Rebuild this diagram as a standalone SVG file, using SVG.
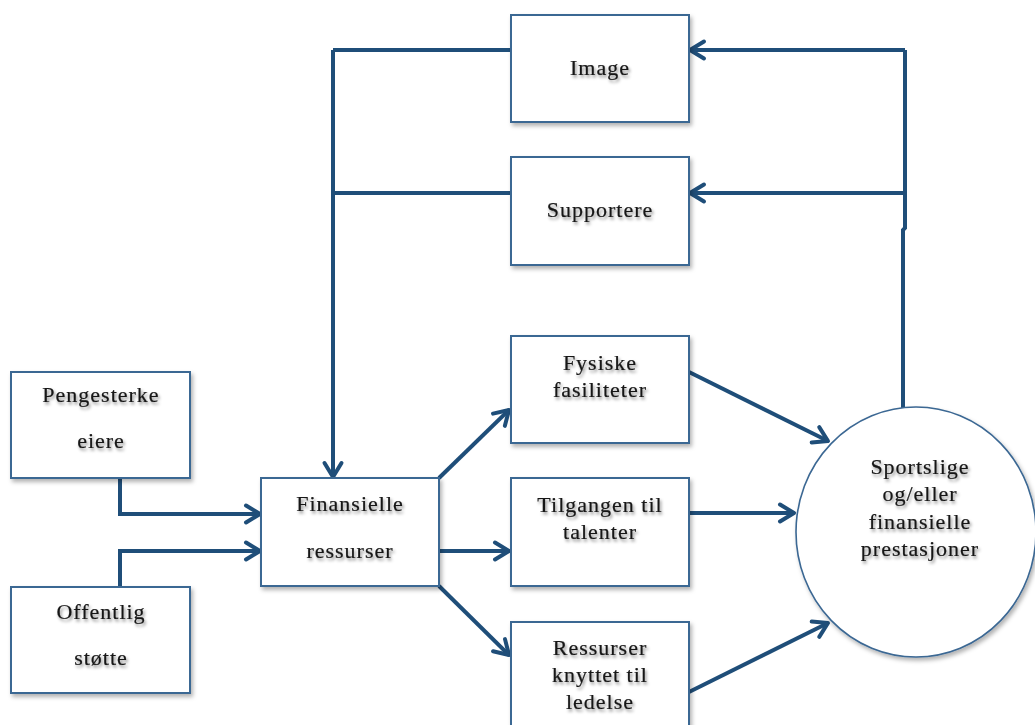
<svg xmlns="http://www.w3.org/2000/svg" width="1035" height="725" viewBox="0 0 1035 725">
  <defs>
    <filter id="boxShadow" x="-10%" y="-10%" width="130%" height="130%">
      <feDropShadow dx="2" dy="3" stdDeviation="2" flood-color="#000" flood-opacity="0.3"/>
    </filter>
    <filter id="textShadow" x="-10%" y="-30%" width="130%" height="170%">
      <feDropShadow dx="1.5" dy="2.5" stdDeviation="1.5" flood-color="#000" flood-opacity="0.45"/>
    </filter>
    <marker id="arrow" markerUnits="userSpaceOnUse" markerWidth="24" markerHeight="24" refX="15" refY="10" orient="auto" overflow="visible">
      <path d="M1,1.5 L15,10 L1,18.5" fill="none" stroke="#1f4e79" stroke-width="4" stroke-linecap="round" stroke-linejoin="round"/>
    </marker>
  </defs>
  <style>
    .box { fill: #ffffff; stroke: #3b6793; stroke-width: 2; filter: url(#boxShadow); }
    .ell { fill: #ffffff; stroke: #3b6793; stroke-width: 1.6; filter: url(#boxShadow); }
    .lbl { font-family: "Liberation Serif", "Times New Roman", serif; font-size: 22px; letter-spacing: 1px; fill: #161616; stroke: #161616; stroke-width: 0.2; text-anchor: middle; filter: url(#textShadow); }
    .con { fill: none; stroke: #1f4e79; stroke-width: 4; stroke-linejoin: miter; }
    .arr { marker-end: url(#arrow); }
  </style>

  <rect width="1035" height="725" fill="#ffffff"/>

  <!-- connectors -->
  <g id="connectors">
    <!-- feedback from performance back to image and supporters -->
    <path class="con" d="M903,410 L903,230 L905,228 L905,50"/>
    <path class="con arr" d="M905,50 L690,50"/>
    <path class="con arr" d="M905,193 L690,193"/>
    <!-- image and supporters feed the financial resources -->
    <path class="con" d="M511,50 L333,50"/>
    <path class="con" d="M511,193 L333,193"/>
    <path class="con arr" d="M333,50 L333,477"/>
    <!-- owners and public support -->
    <path class="con arr" d="M120,478 L120,514 L260,514"/>
    <path class="con arr" d="M120,587 L120,551 L260,551"/>
    <!-- financial resources split into three -->
    <path class="con arr" d="M439,478 L509,410"/>
    <path class="con arr" d="M439,551 L509,551"/>
    <path class="con arr" d="M439,586 L509,655"/>
    <!-- resources to performance -->
    <path class="con arr" d="M689,372 L828,441"/>
    <path class="con arr" d="M689,513 L794,513"/>
    <path class="con arr" d="M689,692 L828,623"/>
  </g>

  <g id="node-image">
    <rect class="box" x="511" y="15" width="178" height="107"/>
    <text class="lbl" x="600" y="75">Image</text>
  </g>

  <g id="node-supportere">
    <rect class="box" x="511" y="157" width="178" height="108"/>
    <text class="lbl" x="600" y="217">Supportere</text>
  </g>

  <g id="node-pengesterke">
    <rect class="box" x="11" y="372" width="179" height="106"/>
    <text class="lbl" x="101" y="402">Pengesterke</text>
    <text class="lbl" x="101" y="448">eiere</text>
  </g>

  <g id="node-offentlig">
    <rect class="box" x="11" y="587" width="179" height="106"/>
    <text class="lbl" x="101" y="619">Offentlig</text>
    <text class="lbl" x="101" y="665">støtte</text>
  </g>

  <g id="node-finansielle">
    <rect class="box" x="261" y="478" width="178" height="108"/>
    <text class="lbl" x="350" y="511">Finansielle</text>
    <text class="lbl" x="350" y="558">ressurser</text>
  </g>

  <g id="node-fysiske">
    <rect class="box" x="511" y="336" width="178" height="107"/>
    <text class="lbl" x="600" y="370">Fysiske</text>
    <text class="lbl" x="600" y="397">fasiliteter</text>
  </g>

  <g id="node-tilgangen">
    <rect class="box" x="511" y="478" width="178" height="108"/>
    <text class="lbl" x="600" y="512">Tilgangen til</text>
    <text class="lbl" x="600" y="539">talenter</text>
  </g>

  <g id="node-ressurser">
    <rect class="box" x="511" y="622" width="178" height="110"/>
    <text class="lbl" x="600" y="655">Ressurser</text>
    <text class="lbl" x="600" y="682">knyttet til</text>
    <text class="lbl" x="600" y="709">ledelse</text>
  </g>

  <g id="node-prestasjoner">
    <ellipse class="ell" cx="916" cy="532" rx="120" ry="125"/>
    <text class="lbl" x="920" y="474">Sportslige</text>
    <text class="lbl" x="920" y="501">og/eller</text>
    <text class="lbl" x="920" y="529">finansielle</text>
    <text class="lbl" x="920" y="556">prestasjoner</text>
  </g>
</svg>
